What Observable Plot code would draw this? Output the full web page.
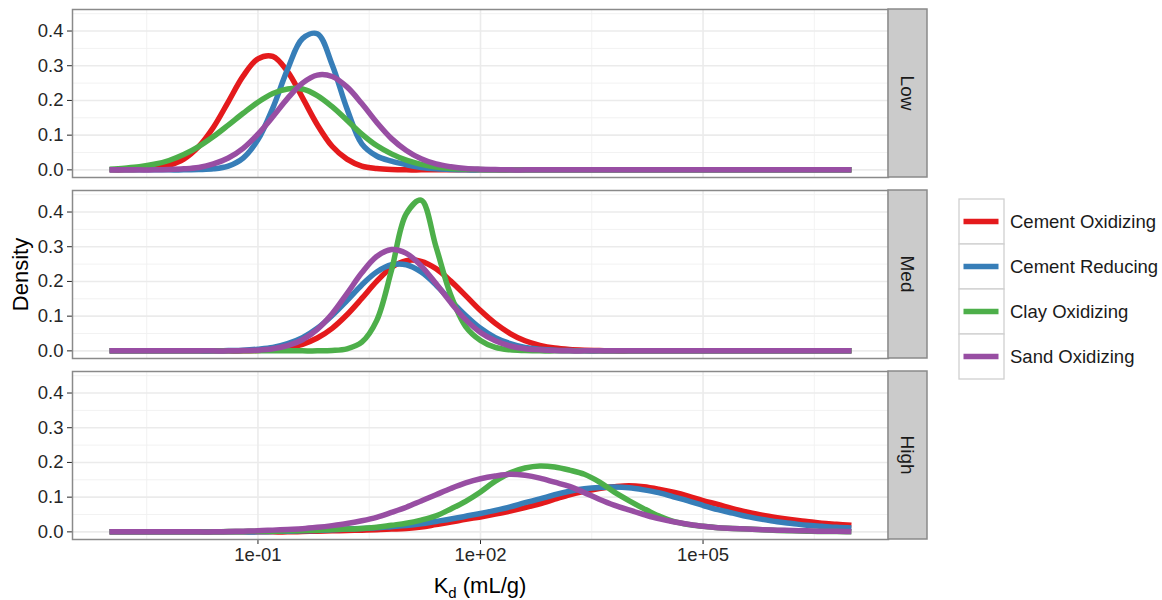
<!DOCTYPE html>
<html>
<head>
<meta charset="utf-8">
<script src="https://cdn.jsdelivr.net/npm/d3@7"></script>
<script src="https://cdn.jsdelivr.net/npm/@observablehq/plot@0.6"></script>
<style>
  html, body { margin: 0; padding: 0; background: #ffffff; }
  #chart svg { display: block; }
</style>
</head>
<body>
<div id="chart"></div>
<script>
// ---- data ----
// log10(Kd) positions at which the density curves were read
const logKdGrid = [
  -3.0, -2.8, -2.6, -2.4, -2.2, -2.0, -1.8, -1.6, -1.4, -1.2,
  -1.0, -0.8, -0.6, -0.4, -0.2, 0.0, 0.2, 0.4, 0.6, 0.8,
  1.0, 1.2, 1.4, 1.6, 1.8, 2.0, 2.2, 2.4, 2.6, 2.8,
  3.0, 3.2, 3.4, 3.6, 3.8, 4.0, 4.2, 4.4, 4.6, 4.8,
  5.0, 5.2, 5.4, 5.6, 5.8, 6.0, 6.2, 6.4, 6.6, 6.8,
  7.0
];

const panels = ["Low", "Med", "High"];
const seriesNames = ["Cement Oxidizing", "Cement Reducing", "Clay Oxidizing", "Sand Oxidizing"];
const seriesColors = ["#E41A1C", "#377EB8", "#4DAF4A", "#984EA3"];

const xTickValues = [0.1, 100, 1e5];
const xTickLabels = ["1e-01", "1e+02", "1e+05"];
const xMinorGrid = [10 ** -2.5, 10 ** 0.5, 10 ** 3.5, 10 ** 6.5];
const yTickValues = [0, 0.1, 0.2, 0.3, 0.4];
const yTickLabels = ["0.0", "0.1", "0.2", "0.3", "0.4"];
const yMinorGrid = [0.05, 0.15, 0.25, 0.35, 0.45];

// Low panel
const lowCementOx = [
  0, 0, 0.001, 0.004, 0.013, 0.031, 0.067, 0.123, 0.196, 0.27,
  0.32, 0.327, 0.283, 0.208, 0.13, 0.068, 0.031, 0.011, 0.004, 0.001,
  0, 0, 0, 0, 0, 0, 0, 0, 0, 0,
  0, 0, 0, 0, 0, 0, 0, 0, 0, 0,
  0, 0, 0, 0, 0, 0, 0, 0, 0, 0,
  0
];
const lowCementRed = [
  0, 0, 0, 0, 0, 0, 0.001, 0.003, 0.011, 0.034,
  0.087, 0.178, 0.29, 0.378, 0.392, 0.303, 0.176, 0.075, 0.04, 0.025,
  0.015, 0.007, 0.003, 0.001, 0, 0, 0, 0, 0, 0,
  0, 0, 0, 0, 0, 0, 0, 0, 0, 0,
  0, 0, 0, 0, 0, 0, 0, 0, 0, 0,
  0
];
const lowClayOx = [
  0.002, 0.005, 0.009, 0.016, 0.027, 0.044, 0.067, 0.096, 0.129, 0.163,
  0.195, 0.22, 0.233, 0.233, 0.214, 0.182, 0.143, 0.103, 0.07, 0.046,
  0.028, 0.016, 0.008, 0.004, 0.002, 0.001, 0, 0, 0, 0,
  0, 0, 0, 0, 0, 0, 0, 0, 0, 0,
  0, 0, 0, 0, 0, 0, 0, 0, 0, 0,
  0
];
const lowSandOx = [
  0, 0, 0, 0, 0.001, 0.003, 0.007, 0.017, 0.034, 0.062,
  0.103, 0.153, 0.206, 0.25, 0.273, 0.269, 0.239, 0.191, 0.137, 0.09,
  0.056, 0.032, 0.017, 0.009, 0.004, 0.002, 0.001, 0, 0, 0,
  0, 0, 0, 0, 0, 0, 0, 0, 0, 0,
  0, 0, 0, 0, 0, 0, 0, 0, 0, 0,
  0
];

// Med panel
const medCementOx = [
  0, 0, 0, 0, 0, 0, 0, 0, 0, 0,
  0.001, 0.004, 0.009, 0.019, 0.037, 0.065, 0.104, 0.151, 0.2, 0.24,
  0.26, 0.258, 0.237, 0.201, 0.159, 0.116, 0.079, 0.05, 0.029, 0.016,
  0.008, 0.004, 0.002, 0.001, 0, 0, 0, 0, 0, 0,
  0, 0, 0, 0, 0, 0, 0, 0, 0, 0,
  0
];
const medCementRed = [
  0, 0, 0, 0, 0, 0, 0, 0, 0.001, 0.002,
  0.005, 0.01, 0.021, 0.038, 0.065, 0.102, 0.145, 0.19, 0.227, 0.248,
  0.248, 0.227, 0.19, 0.145, 0.102, 0.065, 0.038, 0.021, 0.01, 0.005,
  0.002, 0.001, 0, 0, 0, 0, 0, 0, 0, 0,
  0, 0, 0, 0, 0, 0, 0, 0, 0, 0,
  0
];
const medClayOx = [
  0, 0, 0, 0, 0, 0, 0, 0, 0, 0,
  0, 0, 0, 0, 0, 0.001, 0.006, 0.025, 0.087, 0.232,
  0.395, 0.434, 0.30, 0.16, 0.07, 0.03, 0.01, 0.003, 0.001, 0,
  0, 0, 0, 0, 0, 0, 0, 0, 0, 0,
  0, 0, 0, 0, 0, 0, 0, 0, 0, 0,
  0
];
const medSandOx = [
  0, 0, 0, 0, 0, 0, 0, 0, 0, 0.001,
  0.002, 0.006, 0.015, 0.032, 0.062, 0.107, 0.165, 0.225, 0.272, 0.292,
  0.281, 0.245, 0.194, 0.139, 0.09, 0.053, 0.029, 0.014, 0.006, 0.003,
  0.001, 0, 0, 0, 0, 0, 0, 0, 0, 0,
  0, 0, 0, 0, 0, 0, 0, 0, 0, 0,
  0
];

// High panel
const highCementOx = [
  0, 0, 0, 0, 0, 0, 0, 0, 0, 0,
  0, 0, 0, 0.001, 0.002, 0.003, 0.004, 0.005, 0.006, 0.008,
  0.010, 0.014, 0.021, 0.028, 0.036, 0.043, 0.051, 0.060, 0.070, 0.081,
  0.094, 0.107, 0.117, 0.125, 0.130, 0.133, 0.130, 0.123, 0.114, 0.103,
  0.090, 0.079, 0.067, 0.057, 0.048, 0.041, 0.035, 0.030, 0.025, 0.022,
  0.019
];
const highCementRed = [
  0, 0, 0, 0, 0, 0, 0, 0, 0, 0,
  0, 0.001, 0.002, 0.003, 0.004, 0.006, 0.008, 0.010, 0.012, 0.015,
  0.018, 0.023, 0.030, 0.037, 0.045, 0.053, 0.062, 0.072, 0.084, 0.095,
  0.107, 0.117, 0.124, 0.128, 0.129, 0.127, 0.121, 0.113, 0.101, 0.089,
  0.076, 0.064, 0.054, 0.044, 0.036, 0.029, 0.024, 0.019, 0.016, 0.013,
  0.011
];
const highClayOx = [
  0, 0, 0, 0, 0, 0, 0, 0, 0.001, 0.001,
  0.002, 0.002, 0.003, 0.004, 0.005, 0.007, 0.008, 0.010, 0.013, 0.019,
  0.025, 0.034, 0.046, 0.066, 0.088, 0.115, 0.146, 0.170, 0.184, 0.190,
  0.187, 0.178, 0.166, 0.144, 0.115, 0.09, 0.067, 0.046, 0.03, 0.021,
  0.016, 0.012, 0.010, 0.008, 0.006, 0.004, 0.003, 0.002, 0.001, 0.001,
  0
];
const highSandOx = [
  0, 0, 0, 0, 0, 0, 0, 0, 0.001, 0.002,
  0.003, 0.005, 0.007, 0.009, 0.013, 0.018, 0.024, 0.032, 0.042, 0.056,
  0.071, 0.089, 0.107, 0.125, 0.141, 0.153, 0.161, 0.166, 0.163, 0.155,
  0.143, 0.131, 0.113, 0.094, 0.077, 0.063, 0.05, 0.038, 0.029, 0.022,
  0.016, 0.012, 0.01, 0.008, 0.006, 0.005, 0.004, 0.003, 0.002, 0.002,
  0.001
];

// ---- table for the library ----
const seriesByPanel = {
  Low: [lowCementOx, lowCementRed, lowClayOx, lowSandOx],
  Med: [medCementOx, medCementRed, medClayOx, medSandOx],
  High: [highCementOx, highCementRed, highClayOx, highSandOx]
};
const rows = [];
panels.forEach(p => {
  seriesByPanel[p].forEach((vals, k) => {
    vals.forEach((v, i) => {
      rows.push({panel: p, series: seriesNames[k], kd: 10 ** logKdGrid[i], density: v});
    });
  });
});

// ---- layout ----
const W = 1162, H = 600;
const mL = 72, mR = 274, mT = 8, mB = 59;
const FONT = "'Liberation Sans', Arial, Helvetica, sans-serif";
const stripW = 39;
const TICK_FONT = 18.5;

const plot = Plot.plot({
  width: W,
  height: H,
  marginLeft: mL,
  marginRight: mR,
  marginTop: mT,
  marginBottom: mB,
  style: {fontFamily: FONT, fontSize: TICK_FONT + "px", color: "#262626", background: "#ffffff", overflow: "visible"},
  x: {
    type: "log",
    domain: [10 ** -3.5, 10 ** 7.5],
    ticks: xTickValues,
    tickFormat: d => xTickLabels[xTickValues.indexOf(d)],
    tickSize: 5,
    tickPadding: 3,
    label: null
  },
  y: {
    domain: [-0.022, 0.462],
    ticks: yTickValues,
    tickFormat: d => yTickLabels[yTickValues.indexOf(d)],
    tickSize: 5,
    tickPadding: 4,
    label: null
  },
  fy: {domain: panels, axis: null, paddingInner: 0.07, paddingOuter: 0},
  color: {domain: seriesNames, range: seriesColors},
  marks: [
    Plot.ruleY(yMinorGrid, {stroke: "#f0f0f0", strokeWidth: 0.9}),
    Plot.ruleX(xMinorGrid, {stroke: "#f0f0f0", strokeWidth: 0.9}),
    Plot.ruleY(yTickValues, {stroke: "#ebebeb", strokeWidth: 1.6}),
    Plot.ruleX(xTickValues, {stroke: "#ebebeb", strokeWidth: 1.6}),
    Plot.line(rows, {
      x: "kd", y: "density", z: "series", stroke: "series", fy: "panel",
      strokeWidth: 5.5, curve: "catmull-rom", strokeLinecap: "butt", strokeLinejoin: "round"
    }),
    Plot.frame({stroke: "#8a8a8a", strokeWidth: 1.5})
  ]
});

document.getElementById("chart").appendChild(plot);

const svg = d3.select(plot);

// enlarge the library's tick labels (all text that exists so far)
svg.selectAll("text")
  .attr("font-size", TICK_FONT)
  .style("font-size", TICK_FONT + "px")
  .style("font-family", FONT)
  .attr("fill", "#262626");
svg.selectAll("g").each(function () {
  const g = d3.select(this);
  if (g.attr("font-size") != null) g.attr("font-size", TICK_FONT);
});

// ---- strips, axis titles and legend ----
const fy = plot.scale("fy");
const bw = fy.bandwidth;
panels.forEach(p => {
  const y0 = fy.apply(p);
  svg.append("rect")
    .attr("x", W - mR).attr("y", y0)
    .attr("width", stripW).attr("height", bw)
    .attr("fill", "#cbcbcb").attr("stroke", "#8a8a8a").attr("stroke-width", 1.5);
  svg.append("text")
    .attr("transform", `translate(${W - mR + stripW / 2},${y0 + bw / 2}) rotate(90)`)
    .attr("text-anchor", "middle").attr("dy", "0.35em")
    .attr("font-family", FONT).attr("font-size", 19).attr("fill", "#1a1a1a")
    .text(p);
});

svg.append("text")
  .attr("transform", `translate(20,${(mT + H - mB) / 2}) rotate(-90)`)
  .attr("text-anchor", "middle").attr("dy", "0.35em")
  .attr("font-family", FONT).attr("font-size", 22).attr("fill", "#000")
  .text("Density");

const xl = svg.append("text")
  .attr("x", (mL + W - mR) / 2).attr("y", 593)
  .attr("text-anchor", "middle")
  .attr("font-family", FONT).attr("font-size", 22).attr("fill", "#000");
xl.append("tspan").text("K");
xl.append("tspan").attr("font-size", 15).attr("dy", 5).text("d");
xl.append("tspan").attr("dy", -5).text("\u00a0(mL/g)");

const legX = 959, legY = 199, keyW = 45, keyH = 45;
const leg = svg.append("g").attr("text-anchor", "start");
seriesNames.forEach((name, k) => {
  const y = legY + k * keyH;
  leg.append("rect")
    .attr("x", legX).attr("y", y).attr("width", keyW).attr("height", keyH)
    .attr("fill", "#ffffff").attr("stroke", "#d0d0d0").attr("stroke-width", 1.3);
  leg.append("line")
    .attr("x1", legX + 4.5).attr("x2", legX + keyW - 5.5)
    .attr("y1", y + keyH / 2).attr("y2", y + keyH / 2)
    .attr("stroke", seriesColors[k]).attr("stroke-width", 5.5);
  leg.append("text")
    .attr("x", legX + keyW + 6).attr("y", y + keyH / 2).attr("dy", "0.35em")
    .attr("text-anchor", "start")
    .attr("font-family", FONT).attr("font-size", 18.5).attr("fill", "#1a1a1a")
    .text(name);
});
</script>
</body>
</html>
